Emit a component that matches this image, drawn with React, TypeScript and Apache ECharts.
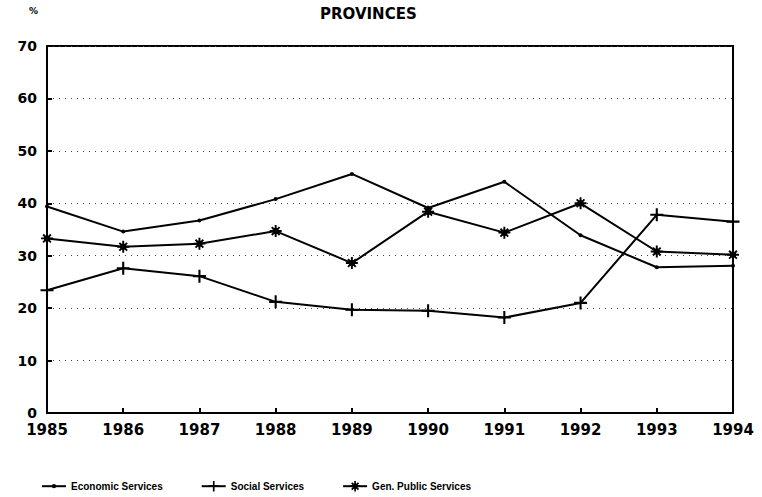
import React, { useEffect, useRef } from "react";
import * as echarts from "echarts";

const years = ["1985", "1986", "1987", "1988", "1989", "1990", "1991", "1992", "1993", "1994"];
const economic = [39.4, 34.6, 36.7, 40.8, 45.6, 39.1, 44.1, 33.9, 27.8, 28.1];
const social = [23.4, 27.6, 26.1, 21.2, 19.7, 19.5, 18.2, 21.0, 37.8, 36.5];
const genPublic = [33.3, 31.7, 32.3, 34.7, 28.6, 38.4, 34.4, 40.0, 30.8, 30.2];

const dotSymbol = "path://M0,0L0,0M10,10L10,10M3,5A2,2 0 1 1 7,5A2,2 0 1 1 3,5Z";
const plusSymbol = "path://M4.2,0H5.8V10H4.2Z M0,4.2H10V5.8H0Z";
const starSymbol =
  "path://M4.2,0H5.8V10H4.2Z M0,4.2H10V5.8H0Z M1.2,2.3L2.3,1.2L8.8,7.7L7.7,8.8Z M7.7,1.2L8.8,2.3L2.3,8.8L1.2,7.7Z M2.5,2.5H7.5V7.5H2.5Z";

const FONT = "DejaVu Sans";

export default function App() {
  const ref = useRef<HTMLDivElement>(null);
  useEffect(() => {
    if (!ref.current) return;
    const chart = echarts.init(ref.current, undefined, { renderer: "svg" });
    const lineStyle = { color: "#000", width: 2 };
    chart.setOption({
      animation: false,
      backgroundColor: "#fff",
      graphic: [
        {
          type: "text",
          left: 320,
          top: 6,
          style: { text: "PROVINCES", font: `bold 15px ${FONT}`, fill: "#000" },
        },
        {
          type: "text",
          left: 29,
          top: 6,
          style: { text: "%", font: `bold 9px ${FONT}`, fill: "#000" },
        },
      ],
      grid: {
        left: 47,
        right: 29,
        top: 46,
        bottom: 84,
        show: true,
        borderColor: "#000",
        borderWidth: 2,
        backgroundColor: "transparent",
      },
      legend: {
        left: 36,
        top: 476,
        itemGap: 38,
        itemWidth: 24,
        itemHeight: 13,
        textStyle: { fontFamily: "Liberation Sans", fontWeight: "bold", fontSize: 10, color: "#000" },
        data: ["Economic Services", "Social Services", "Gen. Public Services"],
      },
      xAxis: {
        type: "category",
        data: years,
        boundaryGap: false,
        axisLine: { lineStyle: { color: "#000", width: 2 } },
        axisTick: { inside: true, length: 5, lineStyle: { color: "#000", width: 2 } },
        axisLabel: {
          fontFamily: FONT,
          fontWeight: "bold",
          fontSize: 15,
          color: "#000",
          margin: 9,
        },
        splitLine: { show: false },
      },
      yAxis: {
        type: "value",
        min: 0,
        max: 70,
        interval: 10,
        axisLine: { show: true, lineStyle: { color: "#000", width: 2 } },
        axisTick: { show: true, inside: true, length: 5, lineStyle: { color: "#000", width: 2 } },
        axisLabel: {
          fontFamily: FONT,
          fontWeight: "bold",
          fontSize: 14,
          color: "#000",
          margin: 10,
        },
        splitLine: { show: true, lineStyle: { color: "#444", width: 1, type: [1, 5] } },
      },
      series: [
        {
          name: "Economic Services",
          type: "line",
          data: economic,
          symbol: dotSymbol,
          symbolSize: 10,
          lineStyle,
          itemStyle: { color: "#000" },
        },
        {
          name: "Social Services",
          type: "line",
          data: social,
          symbol: plusSymbol,
          symbolSize: 13,
          lineStyle,
          itemStyle: { color: "#000" },
        },
        {
          name: "Gen. Public Services",
          type: "line",
          data: genPublic,
          symbol: starSymbol,
          symbolSize: 12,
          lineStyle,
          itemStyle: { color: "#000" },
        },
      ],
    });
    return () => chart.dispose();
  }, []);
  return <div ref={ref} style={{ width: 762, height: 497, position: "absolute", left: 0, top: 0 }} />;
}
